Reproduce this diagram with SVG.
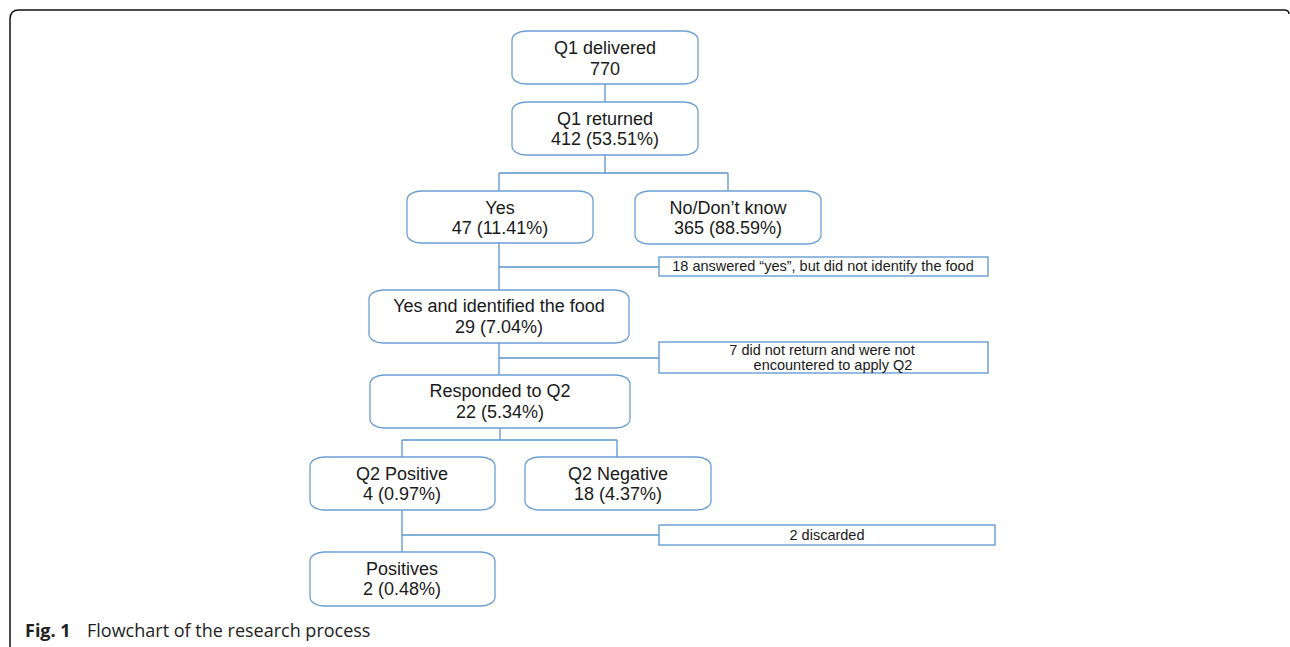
<svg xmlns="http://www.w3.org/2000/svg" width="1290" height="647" viewBox="0 0 1290 647">
<style>
.box{fill:#fff;stroke:#6a9fd4;stroke-width:1.3}
.con{fill:none;stroke:#5b95cf;stroke-width:1.3}
.note{fill:#fff;stroke:#5b95cf;stroke-width:1.3}
.t{font-family:"Liberation Sans",Arial,sans-serif;font-size:18px;fill:#1a1a1a;text-anchor:middle}
.n{font-family:"Liberation Sans",Arial,sans-serif;font-size:14.5px;fill:#1a1a1a;text-anchor:middle}
.cap{font-family:"Open Sans","Noto Sans",sans-serif;font-size:18px;fill:#222}
</style>
<rect width="1290" height="647" fill="#fff"/>
<path d="M10,647 V19 Q10,10 19,10 H1284 Q1289,10 1289,14" fill="none" stroke="#111" stroke-width="1.5"/>
<g id="connectors">
<path class="con" d="M605,84 V102"/>
<path class="con" d="M605,155 V173 M499,173 H728 M499,173 V191 M728,173 V191"/>
<path class="con" d="M499,243 V290 M499,267 H659"/>
<path class="con" d="M499,343 V375 M499,358 H659"/>
<path class="con" d="M500,428 V440 M402,440 H617 M402,440 V457 M617,440 V457"/>
<path class="con" d="M402,510 V552 M402,535 H659"/>
</g>
<g id="q1-delivered"><rect class="box" x="512" y="31" width="186" height="53" rx="14" ry="9"/><text class="t" x="605" y="54">Q1 delivered</text><text class="t" x="605" y="75">770</text></g>
<g id="q1-returned"><rect class="box" x="512" y="102" width="186" height="53" rx="14" ry="9"/><text class="t" x="605" y="125">Q1 returned</text><text class="t" x="605" y="145">412 (53.51%)</text></g>
<g id="yes"><rect class="box" x="407" y="191" width="186" height="52" rx="14" ry="9"/><text class="t" x="500" y="214">Yes</text><text class="t" x="500" y="234">47 (11.41%)</text></g>
<g id="no"><rect class="box" x="635" y="191" width="186" height="53" rx="14" ry="9"/><text class="t" x="728" y="214">No/Don’t know</text><text class="t" x="728" y="234">365 (88.59%)</text></g>
<g id="note1"><rect class="note" x="659" y="257" width="329" height="19"/><text class="n" x="823" y="271">18 answered “yes”, but did not identify the food</text></g>
<g id="yes-identified"><rect class="box" x="369" y="290" width="260" height="53" rx="14" ry="9"/><text class="t" x="499" y="312">Yes and identified the food</text><text class="t" x="499" y="333">29 (7.04%)</text></g>
<g id="note2"><rect class="note" x="659" y="342" width="329" height="31"/><text class="n" x="822" y="355">7 did not return and were not</text><text class="n" x="833" y="370">encountered to apply Q2</text></g>
<g id="responded"><rect class="box" x="370" y="375" width="260" height="53" rx="14" ry="9"/><text class="t" x="500" y="397">Responded to Q2</text><text class="t" x="500" y="418">22 (5.34%)</text></g>
<g id="q2-positive"><rect class="box" x="310" y="457" width="185" height="53" rx="14" ry="9"/><text class="t" x="402" y="480">Q2 Positive</text><text class="t" x="402" y="500">4 (0.97%)</text></g>
<g id="q2-negative"><rect class="box" x="525" y="457" width="186" height="53" rx="14" ry="9"/><text class="t" x="618" y="480">Q2 Negative</text><text class="t" x="618" y="500">18 (4.37%)</text></g>
<g id="note3"><rect class="note" x="659" y="525" width="336" height="20"/><text class="n" x="827" y="540">2 discarded</text></g>
<g id="positives"><rect class="box" x="310" y="552" width="185" height="54" rx="14" ry="9"/><text class="t" x="402" y="575">Positives</text><text class="t" x="402" y="595">2 (0.48%)</text></g>
<text class="cap" x="25" y="637"><tspan font-weight="bold">Fig. 1</tspan><tspan x="87">Flowchart of the research process</tspan></text>
</svg>
